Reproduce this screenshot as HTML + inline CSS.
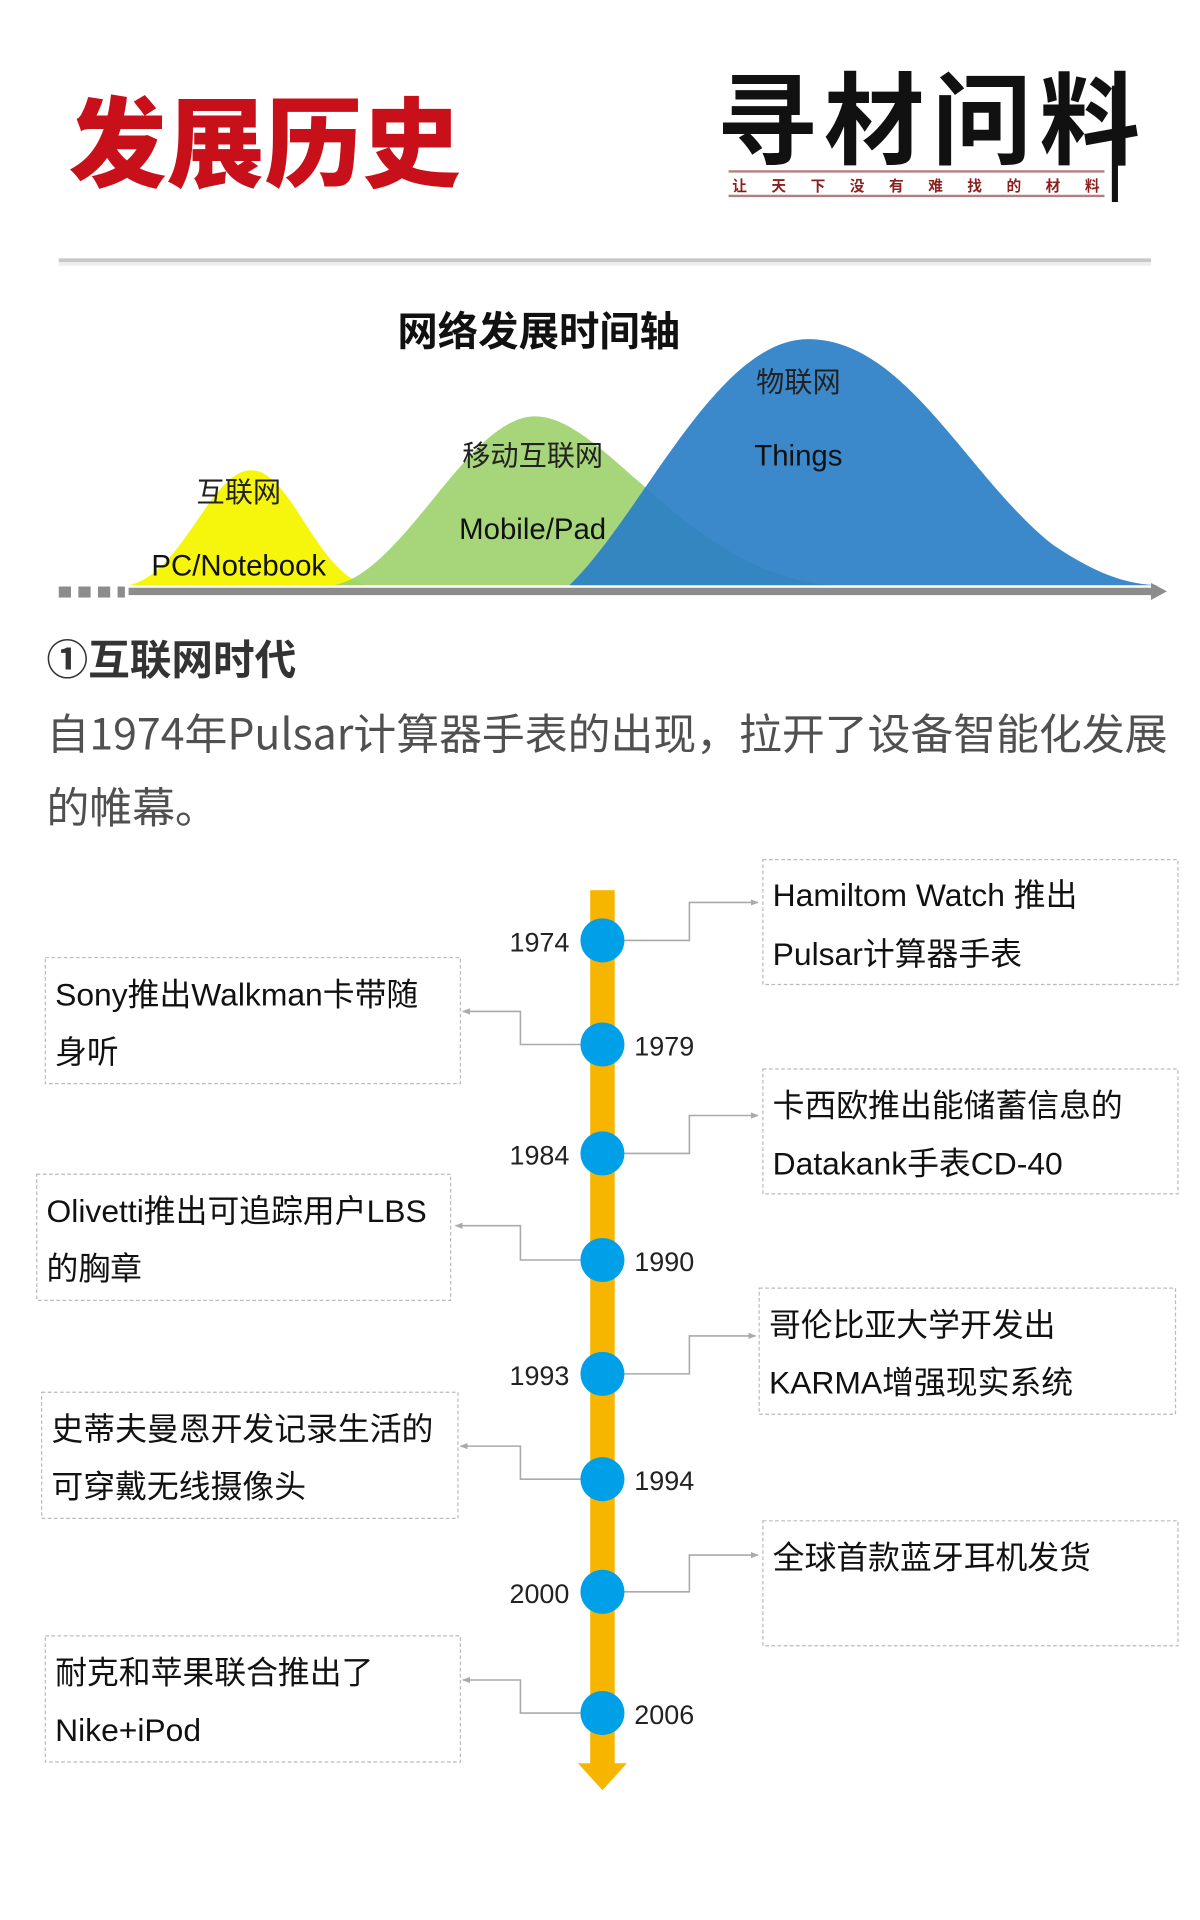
<!DOCTYPE html>
<html><head><meta charset="utf-8"><style>
html,body{margin:0;padding:0;background:#fff;width:1200px;height:1920px;overflow:hidden}
svg{display:block}
text{font-family:"Liberation Sans","Noto Sans CJK SC",sans-serif}
.cj{font-family:"Noto Sans CJK SC","Liberation Sans",sans-serif}
.bx{font-family:"Liberation Sans","Noto Sans CJK SC",sans-serif;font-size:26px;fill:#111}
.yr{font-size:22px;fill:#222}
</style></head><body>
<svg width="1200" height="1920" viewBox="0 0 980 1568" xmlns="http://www.w3.org/2000/svg">
<defs>
<marker id="ar" viewBox="0 0 10 10" refX="9" refY="5" markerWidth="5" markerHeight="5" orient="auto"><path d="M0,1 L10,5 L0,9 z" fill="#aaa"/></marker>
</defs>
<text x="56" y="146" class="cj" font-size="80" font-weight="900" fill="#c8101a">发展历史</text>
<text x="585" y="128" font-family="Noto Serif CJK SC,serif" font-size="82" font-weight="700" fill="#111" letter-spacing="6">寻材问料</text>
<rect x="908" y="70" width="5" height="95" fill="#111"/>
<line x1="595" y1="140" x2="902" y2="140" stroke="#b08080" stroke-width="2"/>
<line x1="595" y1="160" x2="902" y2="160" stroke="#b08080" stroke-width="2"/>
<text x="598" y="156" class="cj" font-size="12" font-weight="bold" fill="#8a2020" letter-spacing="20">让天下没有难找的材料</text>
<rect x="48" y="211" width="892" height="3" fill="#c8c8c8"/>
<rect x="48" y="214" width="892" height="3" fill="#eee"/>
<text x="440" y="282" text-anchor="middle" class="cj" font-size="33" font-weight="bold" fill="#111">网络发展时间轴</text>
<path d="M105,478 C150,468 172,384 205,384 C238,384 258,468 300,478 Z" fill="#f5f500" opacity="0.95"/>
<path d="M272,478 C330,468 382,340 437,340 C495,340 560,468 680,478 Z" fill="#9dd06a" opacity="0.9"/>
<path d="M465,478 C525,420 585,277 660,277 C740,277 790,390 860,445 C900,472 925,478 950,478 Z" fill="#2a7fc7" opacity="0.92"/>
<text x="195" y="410" text-anchor="middle" class="cj" font-size="23" fill="#222">互联网</text>
<text x="195" y="470" text-anchor="middle" font-size="24" fill="#111">PC/Notebook</text>
<text x="435" y="380" text-anchor="middle" class="cj" font-size="23" fill="#222">移动互联网</text>
<text x="435" y="440" text-anchor="middle" font-size="24" fill="#111">Mobile/Pad</text>
<text x="652" y="320" text-anchor="middle" class="cj" font-size="23" fill="#222">物联网</text>
<text x="652" y="380" text-anchor="middle" font-size="24" fill="#111">Things</text>
<rect x="105" y="480" width="838" height="6" fill="#8c8c8c"/>
<path d="M940,476 L953,483 L940,490 Z" fill="#8c8c8c"/>
<rect x="48" y="479" width="10" height="9" fill="#8c8c8c"/>
<rect x="64" y="479" width="10" height="9" fill="#8c8c8c"/>
<rect x="80" y="479" width="10" height="9" fill="#8c8c8c"/>
<rect x="96" y="479" width="6" height="9" fill="#8c8c8c"/>
<text x="38" y="551" class="cj" font-size="34" font-weight="bold" fill="#333">①互联网时代</text>
<text x="38" y="612" class="cj" font-size="35" fill="#505050">自1974年Pulsar计算器手表的出现，拉开了设备智能化发展</text>
<text x="38" y="672" class="cj" font-size="35" fill="#505050">的帷幕。</text>
<rect x="482" y="727" width="20" height="716" fill="#f7b500"/>
<path d="M472,1440 L512,1440 L492,1462 Z" fill="#f7b500"/>
<g fill="none" stroke="#aaa" stroke-width="1.3">
<path d="M510,768 H563 V737 H619" marker-end="url(#ar)"/>
<path d="M474,853 H425 V826 H378" marker-end="url(#ar)"/>
<path d="M510,942 H563 V911 H619" marker-end="url(#ar)"/>
<path d="M474,1029 H425 V1001 H372" marker-end="url(#ar)"/>
<path d="M510,1122 H563 V1091 H617" marker-end="url(#ar)"/>
<path d="M474,1208 H425 V1181 H376" marker-end="url(#ar)"/>
<path d="M510,1300 H563 V1270 H619" marker-end="url(#ar)"/>
<path d="M474,1399 H425 V1372 H378" marker-end="url(#ar)"/>
</g>
<g fill="#00a0e9">
<circle cx="492" cy="768" r="18"/><circle cx="492" cy="853" r="18"/>
<circle cx="492" cy="942" r="18"/><circle cx="492" cy="1029" r="18"/>
<circle cx="492" cy="1122" r="18"/><circle cx="492" cy="1208" r="18"/>
<circle cx="492" cy="1300" r="18"/><circle cx="492" cy="1399" r="18"/>
</g>
<text x="465" y="777" text-anchor="end" class="yr">1974</text>
<text x="518" y="862" class="yr">1979</text>
<text x="465" y="951" text-anchor="end" class="yr">1984</text>
<text x="518" y="1038" class="yr">1990</text>
<text x="465" y="1131" text-anchor="end" class="yr">1993</text>
<text x="518" y="1217" class="yr">1994</text>
<text x="465" y="1309" text-anchor="end" class="yr">2000</text>
<text x="518" y="1408" class="yr">2006</text>
<g fill="none" stroke="#bbb" stroke-width="1" stroke-dasharray="3,2">
<rect x="623" y="702" width="339" height="102"/>
<rect x="37" y="782" width="339" height="103"/>
<rect x="623" y="873" width="339" height="102"/>
<rect x="30" y="959" width="338" height="103"/>
<rect x="620" y="1052" width="340" height="103"/>
<rect x="34" y="1137" width="340" height="103"/>
<rect x="623" y="1242" width="339" height="102"/>
<rect x="37" y="1336" width="339" height="103"/>
</g>
<text x="631" y="740" class="bx">Hamiltom Watch 推出</text>
<text x="631" y="788" class="bx">Pulsar计算器手表</text>
<text x="45" y="821" class="bx">Sony推出Walkman卡带随</text>
<text x="45" y="868" class="bx">身听</text>
<text x="631" y="912" class="bx">卡西欧推出能储蓄信息的</text>
<text x="631" y="959" class="bx">Datakank手表CD-40</text>
<text x="38" y="998" class="bx">Olivetti推出可追踪用户LBS</text>
<text x="38" y="1045" class="bx">的胸章</text>
<text x="628" y="1091" class="bx">哥伦比亚大学开发出</text>
<text x="628" y="1138" class="bx">KARMA增强现实系统</text>
<text x="42" y="1176" class="bx">史蒂夫曼恩开发记录生活的</text>
<text x="42" y="1223" class="bx">可穿戴无线摄像头</text>
<text x="631" y="1281" class="bx">全球首款蓝牙耳机发货</text>
<text x="45" y="1375" class="bx">耐克和苹果联合推出了</text>
<text x="45" y="1422" class="bx">Nike+iPod</text>
</svg>
</body></html>
